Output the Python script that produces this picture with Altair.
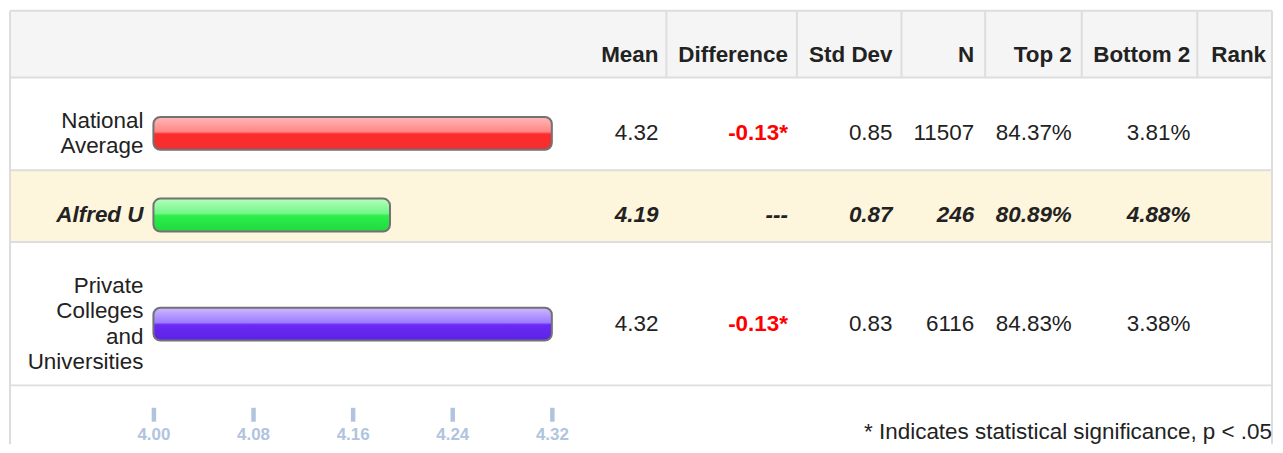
import altair as alt
import pandas as pd

# ---------------- data ----------------
groups = ["National Average", "Alfred U", "Private Colleges and Universities"]
row_labels = ["National\nAverage", "Alfred U", "Private\nColleges\nand\nUniversities"]
means = [4.32, 4.19, 4.32]
differences = ["-0.13*", "---", "-0.13*"]
std_devs = [0.85, 0.87, 0.83]
counts = [11507, 246, 6116]
top2 = [84.37, 80.89, 84.83]
bottom2 = [3.81, 4.88, 3.38]
ranks = ["", "", ""]
highlighted = [False, True, False]
headers = ["Mean", "Difference", "Std Dev", "N", "Top 2", "Bottom 2", "Rank"]
axis_values = [4.00, 4.08, 4.16, 4.24, 4.32]
footnote = "* Indicates statistical significance, p < .05"

df = pd.DataFrame({
    "group": groups,
    "label": row_labels,
    "row": list(range(len(groups))),
    "mean": means,
    "diff": differences,
    "sd": std_devs,
    "n": counts,
    "top2": top2,
    "bottom2": bottom2,
    "rank": ranks,
    "hl": highlighted,
})
one = pd.DataFrame({"k": [0]})

# ---------------- layout (pixels, chart coordinates) ----------------
W, H, PAD_B = 1272, 400, 37
LEFT, RIGHT, TOP = 2, 1269, 2
HEAD_B, R1_B, R2_B, R3_B, BOTTOM = 69, 162, 234, 378, 437
col_right = [653, 783, 888, 970, 1068, 1187, 1263]
col_lines = [661, 792, 897, 981, 1078, 1194]
row_centers = [125, 207, 316.5]
FONT = "Liberation Sans"
FS = 22.5
LH = 25.5
TXT = "#222222"
GRID = "#dddddd"

yenc = alt.Y("row:Q", scale=alt.Scale(domain=[0, 1, 2], range=row_centers, nice=False,
                                      zero=False, padding=0), axis=None)
xenc = alt.X(
    "mean:Q",
    scale=alt.Scale(domain=[4.0, 4.32], range=[146, 546], nice=False, zero=False),
    axis=alt.Axis(values=axis_values, format=".2f", title=None, domain=False, grid=False,
                  ticks=True, tickSize=14, tickWidth=4.5, tickColor="#b0c4de",
                  labelColor="#b0c4de", labelFontSize=17, labelFontWeight="bold",
                  labelPadding=5, labelFont=FONT, labelFlush=False),
)

layers = []

def rect(x, x2, y, y2, color):
    return alt.Chart(one).mark_rect(color=color).encode(
        x=alt.value(x), x2=alt.value(x2), y=alt.value(y), y2=alt.value(y2))

def hrule(y):
    return alt.Chart(one).mark_rule(color=GRID, strokeWidth=2).encode(
        x=alt.value(LEFT), x2=alt.value(RIGHT), y=alt.value(y))

def vrule(x, y, y2):
    return alt.Chart(one).mark_rule(color=GRID, strokeWidth=2).encode(
        x=alt.value(x), y=alt.value(y), y2=alt.value(y2))

# backgrounds
layers.append(rect(LEFT, RIGHT, TOP, HEAD_B, "#f5f5f5"))
layers.append(rect(LEFT, RIGHT, R1_B, R2_B, "#fdf5dc"))
# grid lines
for y in [TOP, HEAD_B, R1_B, R2_B, R3_B]:
    layers.append(hrule(y))
layers.append(vrule(LEFT, TOP, BOTTOM))
layers.append(vrule(RIGHT, TOP, BOTTOM))
for x in col_lines:
    layers.append(vrule(x, TOP, HEAD_B))

# bars with glossy gradients
def grad(c0, c1, c2, c3):
    return alt.Gradient(gradient="linear", x1=0, y1=0, x2=0, y2=1, stops=[
        alt.GradientStop(offset=0, color=c0),
        alt.GradientStop(offset=0.45, color=c1),
        alt.GradientStop(offset=0.52, color=c2),
        alt.GradientStop(offset=1, color=c3),
    ])

bar_fills = [
    grad("#ffb8b8", "#ff8686", "#ff2b2b", "#f03030"),
    grad("#b4ffbc", "#74f588", "#2cf04c", "#22d840"),
    grad("#cdb9ff", "#9d7dff", "#6a2af6", "#5b22e4"),
]
for i, fill in enumerate(bar_fills):
    layers.append(
        alt.Chart(df).transform_filter(alt.datum.row == i)
        .mark_bar(fill=fill, stroke="#727272", strokeWidth=2, cornerRadiusEnd=7, size=33)
        .encode(x=xenc, x2=alt.datum(4.0), y=yenc)
    )

# row labels (multi-line blocks centred on the row)
for i, lab in enumerate(row_labels):
    n_lines = lab.count("\n") + 1
    style = dict(fontWeight="bold", fontStyle="italic") if highlighted[i] else {}
    layers.append(
        alt.Chart(df).transform_filter(alt.datum.row == i)
        .mark_text(align="right", baseline="middle", font=FONT, fontSize=FS, lineBreak="\n",
                   lineHeight=LH, color=TXT, dy=-(n_lines - 1) / 2 * LH, **style)
        .encode(x=alt.value(136), y=yenc, text="label:N")
    )

# value columns
base = alt.Chart(df).transform_calculate(
    mean_s="format(datum.mean, '.2f')",
    sd_s="format(datum.sd, '.2f')",
    n_s="format(datum.n, 'd')",
    top2_s="format(datum.top2, '.2f') + '%'",
    bottom2_s="format(datum.bottom2, '.2f') + '%'",
)
fields = ["mean_s", "diff", "sd_s", "n_s", "top2_s", "bottom2_s", "rank"]
for f, xr in zip(fields, col_right):
    normal_kw = dict(color=TXT)
    if f == "diff":
        normal_kw = dict(color="#ff0000", fontWeight="bold")
    layers.append(
        base.transform_filter("!datum.hl")
        .mark_text(align="right", baseline="middle", font=FONT, fontSize=FS, **normal_kw)
        .encode(x=alt.value(xr), y=yenc, text=f"{f}:N")
    )
    layers.append(
        base.transform_filter("datum.hl")
        .mark_text(align="right", baseline="middle", font=FONT, fontSize=FS, fontWeight="bold",
                   fontStyle="italic", color=TXT)
        .encode(x=alt.value(xr), y=yenc, text=f"{f}:N")
    )

# header
for h, xr in zip(headers, col_right):
    layers.append(
        alt.Chart(one).mark_text(text=h, align="right", baseline="middle", font=FONT,
                                 fontSize=FS, fontWeight="bold", color=TXT)
        .encode(x=alt.value(xr), y=alt.value(46))
    )

# footnote
layers.append(
    alt.Chart(one).mark_text(text=footnote, align="right", baseline="middle", font=FONT,
                             fontSize=22.5, color=TXT)
    .encode(x=alt.value(1269), y=alt.value(425))
)

chart = alt.layer(*layers).properties(
    width=W, height=H,
    autosize=alt.AutoSizeParams(type="none"),
    padding={"left": 0, "top": 0, "right": 0, "bottom": PAD_B},
).configure_view(stroke=None)

chart.save("out.html", embed_options={"renderer": "svg", "actions": False})
